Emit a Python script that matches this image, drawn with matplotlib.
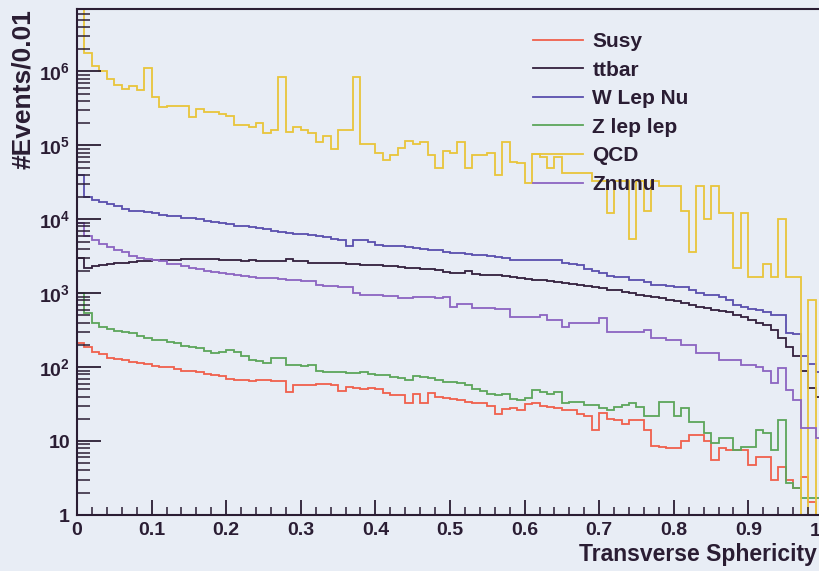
import numpy as np
import matplotlib
matplotlib.use("Agg")
import matplotlib.pyplot as plt
from matplotlib.ticker import FixedLocator, LogLocator, MultipleLocator, NullFormatter

plt.rcParams["font.family"] = ["Liberation Sans", "DejaVu Sans"]
plt.rcParams["font.weight"] = "bold"
plt.rcParams["mathtext.fontset"] = "custom"
plt.rcParams["mathtext.rm"] = "Liberation Sans:bold"
plt.rcParams["mathtext.bf"] = "Liberation Sans:bold"
plt.rcParams["mathtext.default"] = "bf"

# bin edges: 100 bins of 0.01 in transverse sphericity
bin_edges = np.linspace(0.0, 1.0, 101)

susy = [210, 185, 160, 150, 135, 130, 125, 117, 115, 110,
        105, 100, 100, 95, 90, 88, 85, 80, 78, 75,
        70, 67, 68, 65, 66, 67, 65, 64, 46, 57,
        57, 58, 60, 60, 58, 47, 54, 53, 50, 52,
        51, 45, 42, 42, 33, 43, 33, 45, 40, 38,
        37, 36, 34, 33, 33, 30, 23, 27, 28, 26,
        32, 33, 30, 29, 28, 26, 26, 23, 22, 14,
        24, 20, 19, 17, 19, 19, 14, 8.5, 8.3, 8,
        8, 10, 12, 12, 10, 5.5, 8, 7.5, 7.5, 7.5,
        4.7, 6, 6, 3, 4.5, 3, 2.3, 3.3, 1.5, 0]

ttbar = [3000, 2200, 2300, 2400, 2500, 2550, 2600, 2650, 2700, 2750,
         2800, 2800, 2850, 2800, 2900, 2900, 2950, 2900, 2900, 2850,
         2800, 2800, 2750, 2800, 2700, 2750, 2700, 2750, 2950, 2750,
         2700, 2600, 2600, 2600, 2550, 2550, 2500, 2450, 2400, 2400,
         2400, 2350, 2350, 2250, 2200, 2200, 2150, 2100, 2050, 1950,
         1900, 1900, 2000, 1800, 1750, 1750, 1750, 1700, 1650, 1600,
         1550, 1500, 1500, 1450, 1400, 1380, 1350, 1300, 1250, 1200,
         1180, 1120, 1100, 1050, 1000, 960, 930, 900, 860, 820,
         780, 740, 700, 660, 640, 600, 580, 550, 510, 470,
         430, 400, 370, 320, 250, 190, 140, 90, 53, 40]

w_lep_nu = [40000, 20000, 18000, 17000, 16000, 15000, 14000, 13000, 13000, 12500,
            12000, 11500, 11200, 11000, 10500, 10300, 10000, 9500, 9200, 9000,
            8600, 8200, 8000, 7800, 7600, 7300, 7000, 6800, 6500, 6400,
            6400, 6200, 6000, 5800, 5500, 5300, 4400, 5200, 5200, 5000,
            4500, 4400, 4400, 4300, 4200, 4100, 4000, 3900, 3800, 3600,
            3500, 3500, 3400, 3300, 3300, 3200, 3100, 3000, 2800, 2800,
            2800, 2800, 2800, 2800, 2800, 2600, 2500, 2400, 2100, 2000,
            1900, 1700, 1650, 1650, 1500, 1500, 1400, 1300, 1300, 1250,
            1200, 1200, 1100, 1000, 940, 940, 900, 800, 690, 650,
            620, 590, 560, 510, 510, 290, 280, 140, 110, 85]

z_lep_lep = [1000, 540, 390, 350, 330, 310, 300, 290, 260, 250,
             235, 230, 220, 210, 195, 185, 180, 165, 155, 160,
             170, 160, 140, 125, 120, 115, 135, 135, 107, 107,
             105, 107, 90, 86, 85, 85, 84, 83, 85, 80,
             78, 78, 74, 72, 68, 75, 74, 72, 66, 63,
             63, 62, 58, 50, 48, 44, 42, 44, 37, 36,
             38, 49, 46, 44, 46, 33, 34, 34, 31, 31,
             28, 26, 29, 31, 33, 29, 22, 22, 34, 34,
             22, 28, 18, 18, 13, 9.5, 11, 11, 7.5, 8.3,
             8.3, 14, 13, 7.5, 19, 2.7, 2.3, 1.7, 1.7, 1.7]

qcd = [9e6, 1.8e6, 1.2e6, 1.0e6, 8e5, 6.5e5, 5.8e5, 6.3e5, 5.7e5, 1.1e6,
       4.5e5, 3.3e5, 3.4e5, 3.4e5, 3.4e5, 2.4e5, 3.1e5, 2.8e5, 2.8e5, 2.7e5,
       2.5e5, 1.9e5, 1.9e5, 1.8e5, 2.0e5, 1.45e5, 1.6e5, 8.3e5, 1.5e5, 1.8e5,
       1.6e5, 1.45e5, 1.1e5, 1.35e5, 9e4, 1.6e5, 1.6e5, 8.3e5, 1.05e5, 1.05e5,
       8e4, 6.3e4, 7.3e4, 9.3e4, 1.16e5, 1.05e5, 1.1e5, 7.3e4, 4.9e4, 8.5e4,
       7.8e4, 1.1e5, 4.9e4, 7.3e4, 7.3e4, 8e4, 4e4, 1.1e5, 6e4, 5.8e4,
       3.1e4, 7.7e4, 6.9e4, 5e4, 6.9e4, 4.2e4, 4.2e4, 4.2e4, 4.2e4, 3.3e4,
       3.3e4, 1.2e4, 3.3e4, 3.3e4, 5.5e3, 3.3e4, 1.3e4, 3.3e4, 2.8e4, 2.8e4,
       2.8e4, 1.3e4, 3.6e3, 2.8e4, 1e4, 2.8e4, 1.2e4, 1.2e4, 2.2e3, 1.2e4,
       1.65e3, 1.65e3, 2.5e3, 1.65e3, 1e4, 1.65e3, 1.65e3, 0, 800, 0]

znunu = [9000, 6000, 5200, 4600, 4200, 3900, 3600, 3200, 3000, 2900,
         2800, 2700, 2500, 2450, 2300, 2200, 2150, 2000, 1950, 1900,
         1800, 1750, 1720, 1650, 1620, 1600, 1600, 1580, 1500, 1500,
         1450, 1450, 1300, 1250, 1250, 1200, 1200, 1000, 950, 940,
         940, 930, 930, 870, 860, 900, 880, 880, 870, 880,
         650, 720, 720, 630, 630, 630, 620, 620, 470, 470,
         470, 470, 510, 430, 430, 350, 390, 390, 390, 390,
         460, 300, 300, 300, 300, 300, 320, 250, 250, 230,
         230, 200, 200, 155, 155, 155, 125, 125, 125, 107,
         107, 100, 90, 62, 97, 49, 36, 15, 15, 11]

series_names = ["Susy", "ttbar", "W Lep Nu", "Z lep lep", "QCD", "Znunu"]
series_values = [susy, ttbar, w_lep_nu, z_lep_lep, qcd, znunu]
series_colors = ["#f0604c", "#33203d", "#5a4fae", "#5ca55a", "#e8c53a", "#8c64c2"]

y_ticks = [1, 10, 100, 1e3, 1e4, 1e5, 1e6]
y_tick_labels = ["1", "10", "10$^{2}$", "10$^{3}$", "10$^{4}$", "10$^{5}$", "10$^{6}$"]
x_ticks = [0, 0.1, 0.2, 0.3, 0.4, 0.5, 0.6, 0.7, 0.8, 0.9, 1.0]
x_tick_labels = ["0", "0.1", "0.2", "0.3", "0.4", "0.5", "0.6", "0.7", "0.8", "0.9", "1"]

bg = "#e8edf5"
ink = "#2a1d33"

fig = plt.figure(figsize=(8.2, 5.71), dpi=100, facecolor=bg)
ax = fig.add_axes([77 / 820, 56 / 571, 746 / 820, 506 / 571], facecolor=bg)

for name, vals, col in zip(series_names, series_values, series_colors):
    ax.stairs(vals, bin_edges, baseline=None, color=col, lw=1.3, label=name)

ax.set_yscale("log", nonpositive="clip")
ax.set_xlim(0, 1)
ax.set_ylim(1, 7e6)

ax.yaxis.set_major_locator(FixedLocator(y_ticks))
ax.set_yticklabels(y_tick_labels)
ax.yaxis.set_minor_locator(LogLocator(base=10, subs=np.arange(2, 10), numticks=20))
ax.yaxis.set_minor_formatter(NullFormatter())
ax.xaxis.set_major_locator(FixedLocator(x_ticks))
# the last label ("1") would be cut by the figure edge, so it is placed by hand below
ax.set_xticklabels(x_tick_labels[:-1] + [""])
ax.xaxis.set_minor_locator(MultipleLocator(0.02))

ax.tick_params(axis="y", which="major", direction="in", length=17, width=1.3,
               color=ink, labelsize=14, labelcolor=ink, pad=5)
ax.tick_params(axis="y", which="minor", direction="in", length=9, width=1.1, color=ink)
ax.tick_params(axis="x", which="major", direction="in", length=11, width=1.3,
               color=ink, labelsize=14, labelcolor=ink, pad=5)
ax.tick_params(axis="x", which="minor", direction="in", length=6, width=1.1, color=ink)

ax.annotate(x_tick_labels[-1], xy=(x_ticks[-1], 0), xycoords=("data", "axes fraction"),
            xytext=(-2, -5.5), textcoords="offset points", ha="right", va="top",
            fontsize=14, fontweight="bold", color=ink)

for side in ["left", "bottom", "top", "right"]:
    ax.spines[side].set_color(ink)
    ax.spines[side].set_linewidth(1.5)

ax.set_xlabel("Transverse Sphericity", fontsize=16.5, fontweight="bold", color=ink,
              ha="right")
ax.xaxis.set_label_coords((817 - 77) / 746, -0.056, transform=ax.transAxes)
ax.xaxis.label.set_va("top")
ax.set_ylabel("#Events/0.01", fontsize=19, fontweight="bold", color=ink, ha="right")
ax.yaxis.set_label_coords(-0.056, 1.0, transform=ax.transAxes)

leg_handles = [plt.Line2D([], [], color=c, lw=1.3) for c in series_colors]
ax.legend(leg_handles, series_names, loc="upper left",
          bbox_to_anchor=(533 / 820, 1 - 32 / 571), bbox_transform=fig.transFigure,
          frameon=False, fontsize=15, labelcolor=ink, handlelength=2.4,
          handletextpad=0.45, labelspacing=0.46, borderpad=0, borderaxespad=0)

fig.savefig("out.png", dpi=100, facecolor=bg)
